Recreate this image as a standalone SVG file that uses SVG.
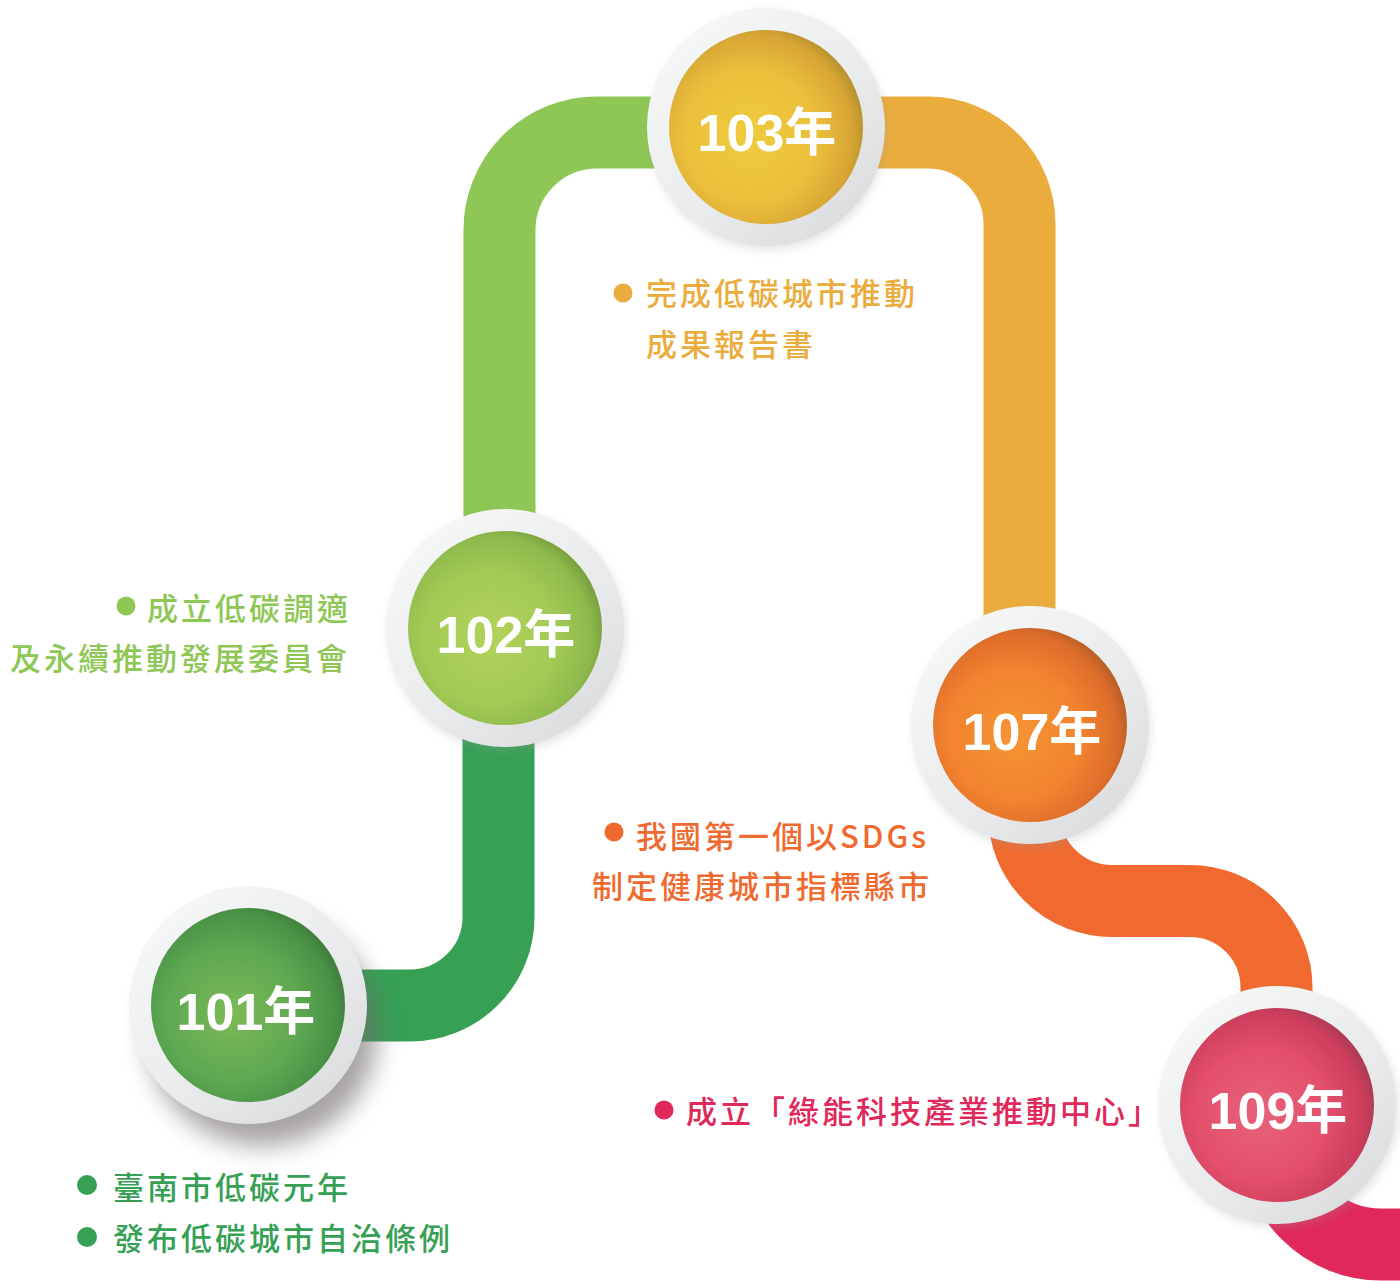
<svg xmlns="http://www.w3.org/2000/svg" width="1400" height="1281" viewBox="0 0 1400 1281">
<style>
.band{fill:none;stroke-width:72}
.ring{fill:url(#ringG)}
.year{font-family:"Liberation Sans","Noto Sans CJK TC",sans-serif;font-weight:bold;font-size:52px;fill:#fff;text-anchor:middle}
.lbl{font-family:"Noto Sans CJK TC","Noto Sans CJK SC",sans-serif;font-weight:500;font-size:31px;letter-spacing:3px}
</style>
<defs>
<linearGradient id="ringG" x1="0.15" y1="0.1" x2="0.85" y2="0.9">
<stop offset="0" stop-color="#F6F7F7"/>
<stop offset="0.6" stop-color="#E9EAEB"/>
<stop offset="1" stop-color="#DCDDDF"/>
</linearGradient>
<radialGradient id="g101" cx="0.42" cy="0.55" r="0.62">
<stop offset="0" stop-color="#7DBA56"/>
<stop offset="0.55" stop-color="#5EA852"/>
<stop offset="0.85" stop-color="#4A9246"/>
<stop offset="1" stop-color="#3B7638"/>
</radialGradient>
<radialGradient id="g102" cx="0.42" cy="0.55" r="0.62">
<stop offset="0" stop-color="#B2D15A"/>
<stop offset="0.55" stop-color="#A2CA55"/>
<stop offset="0.85" stop-color="#8DB84B"/>
<stop offset="1" stop-color="#6F953A"/>
</radialGradient>
<radialGradient id="g103" cx="0.42" cy="0.55" r="0.62">
<stop offset="0" stop-color="#EECB3C"/>
<stop offset="0.55" stop-color="#EBBF3B"/>
<stop offset="0.85" stop-color="#D7A535"/>
<stop offset="1" stop-color="#A98A2B"/>
</radialGradient>
<radialGradient id="g107" cx="0.42" cy="0.55" r="0.62">
<stop offset="0" stop-color="#F59533"/>
<stop offset="0.55" stop-color="#F2832F"/>
<stop offset="0.85" stop-color="#DC6C2B"/>
<stop offset="1" stop-color="#A95A26"/>
</radialGradient>
<radialGradient id="g109" cx="0.42" cy="0.55" r="0.62">
<stop offset="0" stop-color="#E7627A"/>
<stop offset="0.55" stop-color="#E34F6C"/>
<stop offset="0.85" stop-color="#CC3E5C"/>
<stop offset="1" stop-color="#9E3A50"/>
</radialGradient>
<filter id="shadow" x="-50%" y="-50%" width="200%" height="200%">
<feGaussianBlur stdDeviation="12"/>
</filter>
<filter id="soft" x="-50%" y="-50%" width="200%" height="200%">
<feGaussianBlur stdDeviation="4"/>
</filter>
</defs>
<rect width="1400" height="1281" fill="#FFFFFF"/>

<g id="connectors">
<path class="band" stroke="#36A055" d="M250 1005.5 L410 1005.5 A88.5 88.5 0 0 0 498.5 917 L498.5 700"/>
<path class="band" stroke="#8EC756" d="M499.5 560 L499.5 230 A97.5 97.5 0 0 1 597 132.5 L720 132.5"/>
<path class="band" stroke="#EAAC3D" d="M810 132.5 L928 132.5 A91.5 91.5 0 0 1 1019.5 224 L1019.5 680"/>
<path class="band" stroke="#F06A2F" d="M1024 760 L1024 813 A88 88 0 0 0 1112 901 L1190 901 A86.5 86.5 0 0 1 1276.5 987.5 L1276.5 1080"/>
<path class="band" stroke="#E0285A" d="M1276.5 1100 L1276.5 1140 A104.5 104.5 0 0 0 1381 1244.5 L1410 1244.5"/>
</g>

<g id="node-101">
<circle cx="262" cy="1030" r="116" fill="#6E6767" opacity="0.6" filter="url(#shadow)"/>
<circle class="ring" cx="248" cy="1005" r="119"/>
<circle cx="248" cy="1005" r="97" fill="url(#g101)"/>
<text class="year" x="246" y="1030">101年</text>
<circle cx="87" cy="1185" r="10" fill="#36A055"/>
<circle cx="87" cy="1237" r="10" fill="#36A055"/>
<text class="lbl" x="113" y="1199" fill="#36A055">臺南市低碳元年</text>
<text class="lbl" x="113" y="1250" fill="#36A055">發布低碳城市自治條例</text>
</g>

<g id="node-102">
<circle cx="507" cy="632" r="119" fill="#9A9A9A" opacity="0.25" filter="url(#soft)"/>
<circle class="ring" cx="505" cy="628" r="119"/>
<circle cx="505" cy="628" r="97" fill="url(#g102)"/>
<text class="year" x="506" y="653">102年</text>
<circle cx="126" cy="606" r="9.5" fill="#8EC756"/>
<text class="lbl" x="147" y="620" fill="#8EC756">成立低碳調適</text>
<text class="lbl" x="10" y="670" fill="#8EC756">及永續推動發展委員會</text>
</g>

<g id="node-103">
<circle cx="768" cy="131" r="119" fill="#9A9A9A" opacity="0.25" filter="url(#soft)"/>
<circle class="ring" cx="766" cy="127" r="119"/>
<circle cx="766" cy="127" r="97" fill="url(#g103)"/>
<text class="year" x="767" y="151">103年</text>
<circle cx="623" cy="293" r="9.5" fill="#EAAC3D"/>
<text class="lbl" x="646" y="305" fill="#EAAC3D">完成低碳城市推動</text>
<text class="lbl" x="646" y="356" fill="#EAAC3D">成果報告書</text>
</g>

<g id="node-107">
<circle cx="1032" cy="729" r="119" fill="#9A9A9A" opacity="0.25" filter="url(#soft)"/>
<circle class="ring" cx="1030" cy="725" r="119"/>
<circle cx="1030" cy="725" r="97" fill="url(#g107)"/>
<text class="year" x="1032" y="750">107年</text>
<circle cx="614" cy="832" r="9.5" fill="#F06A2F"/>
<text class="lbl" x="636" y="848" fill="#F06A2F">我國第一個以SDGs</text>
<text class="lbl" x="592" y="898" fill="#F06A2F">制定健康城市指標縣市</text>
</g>

<g id="node-109">
<circle cx="1280" cy="1109" r="119" fill="#9A9A9A" opacity="0.25" filter="url(#soft)"/>
<circle class="ring" cx="1277" cy="1105" r="119"/>
<circle cx="1277" cy="1105" r="97" fill="url(#g109)"/>
<text class="year" x="1278" y="1129">109年</text>
<circle cx="664" cy="1110" r="9.5" fill="#E0285A"/>
<text class="lbl" x="686" y="1123" fill="#E0285A">成立「綠能科技產業推動中心」</text>
</g>
</svg>
